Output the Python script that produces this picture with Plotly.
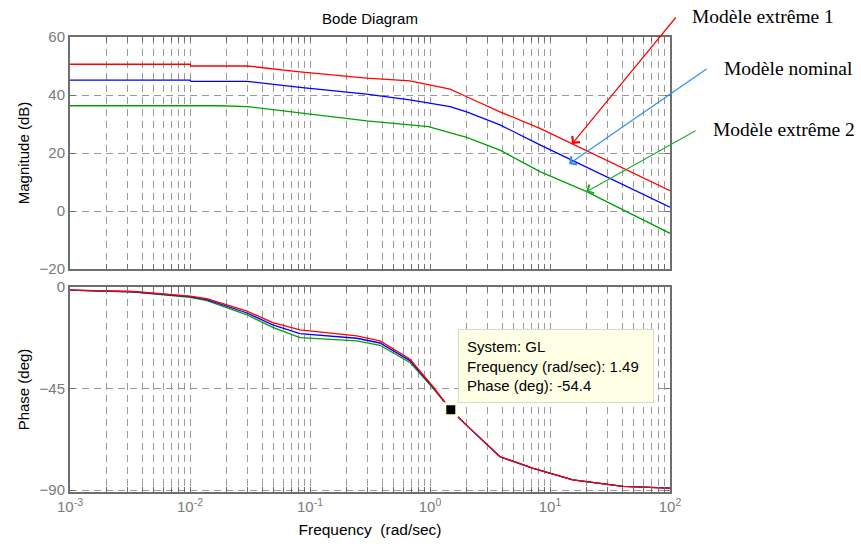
import numpy as np
import plotly.graph_objects as go

# Bode magnitude (dB) of the three models versus frequency (rad/sec)
freq_ext1 = [0.001, 0.01, 0.0102, 0.03, 0.0825, 0.297, 0.68, 1.47, 2.02, 3.83, 8.25, 100.0]
mag_ext1 = [50.6, 50.6, 50.0, 50.0, 48.0, 45.8, 44.9, 42.0, 39.4, 34.2, 28.5, 7.0]

freq_nom = [0.001, 0.01, 0.0102, 0.03, 0.0825, 0.297, 0.68, 1.47, 2.02, 3.83, 8.25, 100.0]
mag_nom = [45.1, 45.1, 44.7, 44.7, 42.6, 40.3, 38.3, 36.0, 34.2, 29.7, 22.8, 1.3]

freq_ext2 = [0.001, 0.0178, 0.03, 0.0825, 0.297, 0.97, 2.02, 3.83, 8.25, 20.2, 100.0]
mag_ext2 = [36.3, 36.3, 36.0, 33.9, 31.1, 29.1, 25.4, 21.0, 13.6, 6.7, -7.7]

# Bode phase (deg)
phase_freq = [0.001, 0.0034, 0.01, 0.0138, 0.0295, 0.049, 0.0825, 0.245, 0.383, 0.68, 1.07, 1.49, 2.02, 3.83, 7.26, 15.5, 40.7, 100.0]
phase_ext1 = [-1.4, -2.0, -4.0, -5.2, -10.6, -15.8, -19.0, -21.6, -23.9, -31.9, -44.4, -54.4, -61.3, -75.2, -80.3, -85.4, -88.3, -89.1]
phase_nom = [-1.4, -2.1, -4.3, -5.6, -11.4, -16.8, -20.7, -22.7, -24.8, -32.6, -44.7, -54.4, -61.3, -75.2, -80.3, -85.4, -88.3, -89.1]
phase_ext2 = [-1.4, -2.3, -4.6, -6.0, -12.2, -17.9, -22.4, -23.9, -25.8, -33.4, -45.1, -54.4, -61.3, -75.2, -80.3, -85.4, -88.3, -89.1]

tip_freq = 1.49
tip_phase = -54.4

labels = ["Modèle extrême 1", "Modèle nominal", "Modèle extrême 2"]

RED, BLUE, GREEN = "#ff0000", "#0000ff", "#00a000"

# log-axis ticks: every 1..9 multiple, labels only on decades
tickvals, ticktext = [], []
for e in range(-3, 3):
    for m in range(1, 10):
        if e == 2 and m > 1:
            break
        tickvals.append(m * 10.0 ** e)
        ticktext.append(f"10<sup>{e}</sup>" if m == 1 else "")

fig = go.Figure()

def line(x, y, color, xa, ya):
    fig.add_trace(go.Scatter(x=x, y=y, mode="lines", line=dict(color=color, width=1.3),
                             xaxis=xa, yaxis=ya, showlegend=False, hoverinfo="skip"))

line(freq_ext2, mag_ext2, GREEN, "x", "y")
line(freq_nom, mag_nom, BLUE, "x", "y")
line(freq_ext1, mag_ext1, RED, "x", "y")

line(phase_freq, phase_ext2, GREEN, "x2", "y2")
line(phase_freq, phase_nom, BLUE, "x2", "y2")
line(phase_freq, phase_ext1, RED, "x2", "y2")

fig.add_trace(go.Scatter(x=[tip_freq], y=[tip_phase], mode="markers",
                         marker=dict(symbol="square", size=12, color="black",
                                     line=dict(color="#ffffe1", width=3)),
                         xaxis="x2", yaxis="y2", showlegend=False, hoverinfo="skip"))

GRID = "#9a9a9a"
FRAME = "#6e6e6e"
TICKFONT = dict(family="Liberation Sans, Arial", size=15, color="#7a7a7a")

common_x = dict(type="log", range=[-3, 2], tickvals=tickvals, ticktext=ticktext,
                showgrid=True, gridcolor=GRID, griddash="7px,5px", gridwidth=1,
                ticks="inside", ticklen=5, tickcolor=FRAME, mirror="ticks",
                showline=True, linecolor=FRAME, linewidth=2, zeroline=False,
                tickfont=TICKFONT)
common_y = dict(showgrid=True, gridcolor=GRID, griddash="7px,5px", gridwidth=1,
                ticks="inside", ticklen=5, tickcolor=FRAME, mirror="ticks",
                showline=True, linecolor=FRAME, linewidth=2, zeroline=False,
                tickfont=TICKFONT)

H = 554
top_lo = (492 - 269) / (H - 37 - 62)
bot_hi = (492 - 287) / (H - 37 - 62)

fig.update_layout(
    width=861, height=554,
    margin=dict(l=70, r=191, t=37, b=62),
    paper_bgcolor="white", plot_bgcolor="white",
    font=dict(family="Liberation Sans, Arial", size=13, color="black"),
    xaxis=dict(**common_x, domain=[0, 1], anchor="y", showticklabels=False),
    yaxis=dict(**common_y, domain=[top_lo, 1], range=[-20, 60], tickvals=[-20, 0, 20, 40, 60],
               title=dict(text="Magnitude (dB)", standoff=6,
                          font=dict(size=15, color="black"))),
    xaxis2=dict(**common_x, domain=[0, 1], anchor="y2", matches="x",
                title=dict(text="Frequency  (rad/sec)", standoff=10,
                           font=dict(size=15.5, color="black"))),
    yaxis2=dict(**common_y, domain=[0, bot_hi], range=[-90.8, 0], tickvals=[-90, -45, 0],
                title=dict(text="Phase (deg)", standoff=6,
                           font=dict(size=15, color="black"))),
    title=dict(text="Bode Diagram", x=370 / 861, xanchor="center", y=1 - 19 / 554,
               yanchor="middle", font=dict(size=15, color="black")),
)

# data tip box
fig.add_annotation(xref="paper", yref="paper", x=(458 - 70) / 600, y=1 - (329 - 37) / 455,
                   xanchor="left", yanchor="top", align="left", showarrow=False,
                   text="System: GL<br>Frequency (rad/sec): 1.49<br>Phase (deg): -54.4",
                   font=dict(family="Liberation Sans, Arial", size=15, color="black"),
                   width=178, height=56,
                   bgcolor="#ffffe6", bordercolor="#d8d8c8", borderwidth=1, borderpad=8)

# model labels with arrows pointing at the magnitude curves
def px(xp):
    return (xp - 70) / 600

def py(yp):
    return 1 - (yp - 37) / 455

arrow_specs = [
    (labels[0], "#ff0000", (677, 16), (572, 144), (690, 17)),
    (labels[1], "#2f8fef", (708, 68), (569, 164), (722, 69)),
    (labels[2], "#22aa33", (697, 130), (586, 192), (711, 130)),
]
for text, color, (x0, y0), (x1, y1), (tx, ty) in arrow_specs:
    fig.add_annotation(xref="paper", yref="paper",
                       x=px(x1), y=py(y1), ax=x0 - x1, ay=y0 - y1, text="",
                       showarrow=True, arrowhead=4, arrowsize=1.6, arrowwidth=1.2,
                       arrowcolor=color)
    fig.add_annotation(xref="paper", yref="paper", x=px(tx), y=py(ty), xanchor="left",
                       yanchor="middle", text=text, showarrow=False,
                       font=dict(family="Liberation Serif, Times New Roman", size=19.5,
                                 color="black"))

fig.write_html("out.html")
